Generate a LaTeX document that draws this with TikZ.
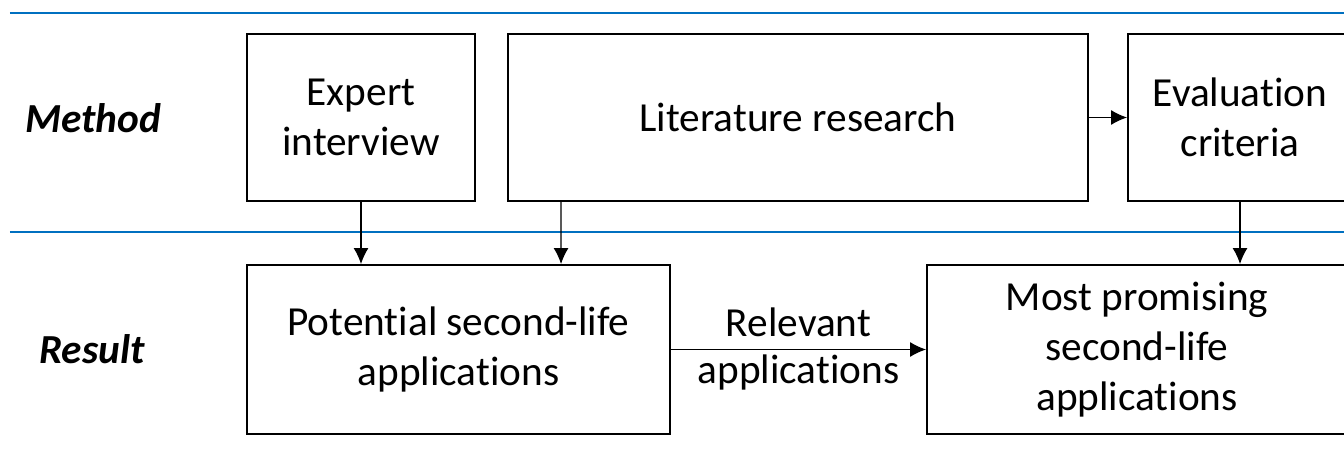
\documentclass[tikz,border=0pt]{standalone}
\usepackage{fontspec}
\setmainfont{Carlito}[Ligatures=CommonOff]
\usetikzlibrary{arrows.meta}
\definecolor{rowblue}{RGB}{0,112,192}
\newcommand{\nolig}{\kern0pt}
\begin{document}
\begin{tikzpicture}[x=1cm,y=1cm,>={Latex[length=0.32cm,width=0.3cm]}]
  \tikzstyle{box}=[draw, line width=1.1pt, inner sep=0pt, align=center, font=\fontsize{23.5}{28.5}\selectfont]
  \tikzstyle{rowlabel}=[font=\fontsize{23.5}{28.5}\selectfont\bfseries\itshape]
  \tikzstyle{arr}=[->, line width=0.7pt]

  \useasboundingbox (0,0) rectangle (26.88,-9.04);

  \draw[rowblue, line width=1.4pt] (0.2,-0.26) -- (26.88,-0.26);
  \draw[rowblue, line width=1.4pt] (0.2,-4.64) -- (26.88,-4.64);

  \node[rowlabel] (method) at (1.86,-2.36) {Method};
  \node[rowlabel] (result) at (1.84,-6.99) {Result};

  \node[box, minimum width=4.56cm, minimum height=3.34cm] (expert) at (7.22,-2.35) {Expert\\interview};
  \node[box, minimum width=11.6cm, minimum height=3.34cm] (lit) at (15.96,-2.35) {Literature research};
  \node[box, minimum width=4.48cm, minimum height=3.34cm] (eval) at (24.8,-2.35) {Evaluat\nolig ion\\criteria};

  \node[box, minimum width=8.46cm, minimum height=3.38cm] (pot) at (9.17,-6.99) {Potent\nolig ial second-life\\applicat\nolig ions};
  \node[box, minimum width=8.4cm, minimum height=3.38cm] (most) at (22.74,-6.99) {Most promising\\second-life\\applicat\nolig ions};

  \draw[arr] (lit.east) -- (eval.west);
  \draw[arr] (expert.south) -- (expert.south |- pot.north);
  \draw[arr] ([xshift=1.08cm]lit.south west) -- ([xshift=6.3cm]pot.north west);
  \draw[arr] (eval.south) -- (eval.south |- most.north);
  \draw[arr] (pot.east) -- node[box, draw=none, yshift=0.54cm] {Relevant} node[box, draw=none, yshift=-0.46cm] {applicat\nolig ions} (most.west);
\end{tikzpicture}
\end{document}
